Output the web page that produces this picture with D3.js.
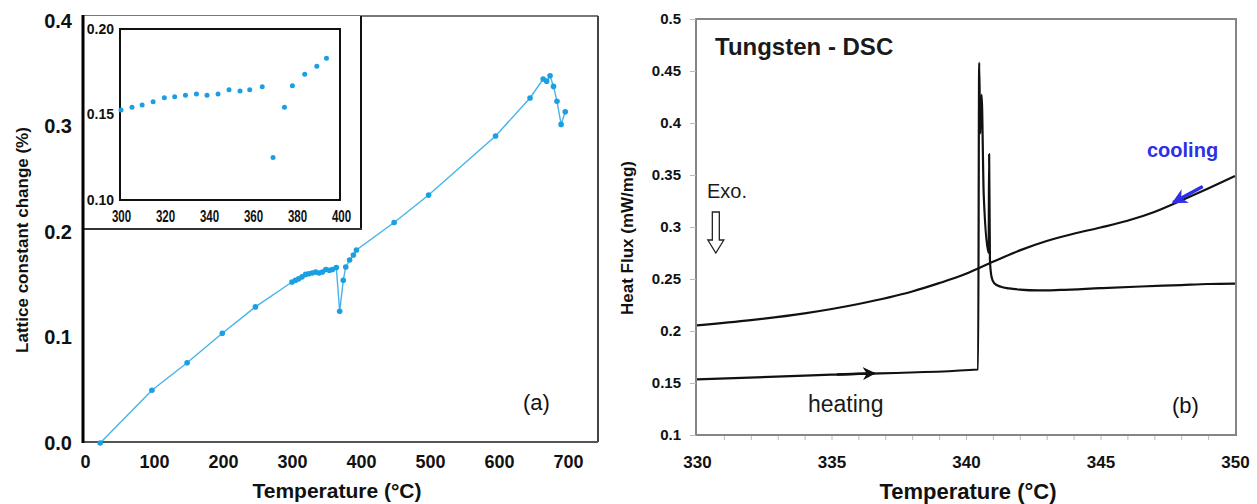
<!DOCTYPE html>
<html>
<head>
<meta charset="utf-8">
<script src="https://cdn.jsdelivr.net/npm/d3@7"></script>
<style>
  body { margin: 0; background: #fff; }
  svg text { font-family: "Liberation Sans", Arial, sans-serif; }
</style>
</head>
<body>
<svg id="chart" width="1257" height="504"></svg>
<script>
// ---- (a) lattice constant change vs temperature ----
var lowTemp = [22, 97, 148, 199, 247];
var lowChange = [0.0, 0.050, 0.076, 0.104, 0.129];

// the same points are shown zoomed in the inset
var insetTemp = [300, 305, 309.6, 314.6, 319.7, 324.4, 329.3, 334.3, 339.1, 344.1, 349.1, 354.1, 358.5, 364.2, 369.1, 374.3, 377.9, 383.5, 389, 393.4];
var insetChange = [0.1526, 0.1542, 0.1556, 0.1575, 0.1598, 0.1604, 0.1612, 0.1620, 0.1612, 0.1620, 0.1645, 0.1637, 0.1645, 0.1663, 0.1248, 0.1542, 0.1668, 0.1735, 0.1782, 0.1829];

var highTemp = [448, 498, 595, 645, 664, 669, 674, 679, 684, 690, 696];
var highChange = [0.209, 0.235, 0.291, 0.327, 0.345, 0.343, 0.348, 0.338, 0.324, 0.302, 0.314];

var leftXTicks = [0, 100, 200, 300, 400, 500, 600, 700];
var leftYTicks = [0, 0.1, 0.2, 0.3, 0.4];
var insetXTicks = [300, 320, 340, 360, 380, 400];
var insetYTicks = [0.10, 0.15, 0.20];

// ---- (b) DSC heat flux ----
var heatTemp = [330, 335, 340.45, 340.49, 340.53, 340.58, 340.66, 340.84, 340.86, 340.89, 340.95, 341.05, 341.3, 341.6, 342, 342.7, 343.5, 345, 346.5, 348, 349, 350];
var heatFlux = [0.1535, 0.158, 0.163, 0.458, 0.39, 0.427, 0.33, 0.275, 0.37, 0.268, 0.252, 0.246, 0.2425, 0.241, 0.2398, 0.239, 0.2395, 0.2412, 0.2428, 0.2442, 0.2452, 0.2455];

var coolTemp = [330, 332, 334, 336, 338, 339, 340, 341, 342, 343, 344, 345, 346, 347, 348, 349, 350];
var coolFlux = [0.2055, 0.2105, 0.217, 0.226, 0.238, 0.246, 0.255, 0.2665, 0.2775, 0.2865, 0.2935, 0.2995, 0.306, 0.3145, 0.3255, 0.337, 0.349];

var rightXTicks = [330, 335, 340, 345, 350];
var rightYTicks = [0.1, 0.15, 0.2, 0.25, 0.3, 0.35, 0.4, 0.45, 0.5];

var FONT = '"Liberation Sans", Arial, sans-serif';
var blueDot = '#1a9fe3';
var blueLine = '#45b4ea';

var svg = d3.select('#chart');

//helper to make axis text look like the figure
function styleAxis(g, size, weight) {
    g.attr('font-family', FONT)
        .attr('font-size', size)
        .attr('font-weight', weight)
        .attr('fill', '#111');
    g.selectAll('text').attr('fill', '#111');
    g.select('.domain').remove();
}

function zip(xs, ys) {
    return xs.map(function(x, i) { return {t: x, v: ys[i]}; });
}

// =============== LEFT PANEL ===============
var xLeft = d3.scaleLinear().domain([0, 700]).range([85, 568]);
var yLeft = d3.scaleLinear().domain([0, 0.4]).range([443, 21]);

var mainData = zip(lowTemp.concat(insetTemp, highTemp), lowChange.concat(insetChange, highChange));

//frame
svg.append('line').attr('x1', 83).attr('y1', 16).attr('x2', 598).attr('y2', 16)
    .attr('stroke', '#777').attr('stroke-width', 2);
svg.append('line').attr('x1', 598).attr('y1', 16).attr('x2', 598).attr('y2', 442)
    .attr('stroke', '#444').attr('stroke-width', 2);
svg.append('line').attr('x1', 83).attr('y1', 442).attr('x2', 598).attr('y2', 442)
    .attr('stroke', '#555').attr('stroke-width', 2);

//axes
svg.append('g').attr('transform', 'translate(83,0)')
    .call(d3.axisLeft(yLeft).tickValues(leftYTicks).tickFormat(d3.format('.1f')).tickSize(0).tickPadding(11))
    .call(styleAxis, 20, 'bold');
svg.append('g').attr('transform', 'translate(0,442)')
    .call(d3.axisBottom(xLeft).tickValues(leftXTicks).tickSize(0).tickPadding(13))
    .call(styleAxis, 18, 'bold');

//data line + dots
var leftLine = d3.line()
    .x(function(d) { return xLeft(d.t); })
    .y(function(d) { return yLeft(d.v); });
svg.append('path').datum(mainData)
    .attr('d', leftLine)
    .attr('fill', 'none')
    .attr('stroke', blueLine)
    .attr('stroke-width', 1.4);
svg.append('g').selectAll('circle').data(mainData).enter()
    .append('circle')
    .attr('cx', function(d) { return xLeft(d.t); })
    .attr('cy', function(d) { return yLeft(d.v); })
    .attr('r', 2.8)
    .attr('fill', blueDot);

//inset box
svg.append('rect').attr('x', 83).attr('y', 16).attr('width', 278).attr('height', 213)
    .attr('fill', '#fff');
svg.append('line').attr('x1', 361).attr('y1', 16).attr('x2', 361).attr('y2', 230)
    .attr('stroke', '#111').attr('stroke-width', 2);
svg.append('line').attr('x1', 83).attr('y1', 229).attr('x2', 362).attr('y2', 229)
    .attr('stroke', '#333').attr('stroke-width', 2);

var xInset = d3.scaleLinear().domain([300, 400]).range([121, 341]);
var yInset = d3.scaleLinear().domain([0.10, 0.20]).range([200, 29]);

svg.append('rect').attr('x', 120).attr('y', 29).attr('width', 220).attr('height', 171)
    .attr('fill', 'none').attr('stroke', '#111').attr('stroke-width', 2);

svg.append('g').attr('transform', 'translate(120,0)')
    .call(d3.axisLeft(yInset).tickValues(insetYTicks).tickFormat(d3.format('.2f')).tickSize(0).tickPadding(6))
    .call(styleAxis, 14, 'bold');
var insetX = svg.append('g').attr('transform', 'translate(0,200)')
    .call(d3.axisBottom(xInset).tickValues(insetXTicks).tickSize(0).tickPadding(11))
    .call(styleAxis, 16, 'bold');
insetX.selectAll('text').attr('transform', 'scale(0.72,1)');

svg.append('g').selectAll('circle').data(zip(insetTemp, insetChange)).enter()
    .append('circle')
    .attr('cx', function(d) { return xInset(d.t); })
    .attr('cy', function(d) { return yInset(d.v); })
    .attr('r', 2.5)
    .attr('fill', blueDot);

//thick left axis line on top
svg.append('line').attr('x1', 83).attr('y1', 15).attr('x2', 83).attr('y2', 443)
    .attr('stroke', '#000').attr('stroke-width', 3);

//titles
svg.append('text')
    .attr('transform', 'translate(28,240)rotate(-90)')
    .attr('text-anchor', 'middle')
    .attr('font-size', 17).attr('font-weight', 'bold').attr('fill', '#111')
    .text('Lattice constant change (%)');
svg.append('text')
    .attr('x', 337).attr('y', 498)
    .attr('text-anchor', 'middle')
    .attr('font-size', 21).attr('font-weight', 'bold').attr('fill', '#111')
    .text('Temperature (°C)');
svg.append('text')
    .attr('x', 523).attr('y', 410)
    .attr('font-size', 22).attr('fill', '#111')
    .text('(a)');

// =============== RIGHT PANEL ===============
var xRight = d3.scaleLinear().domain([330, 350]).range([697, 1235]);
var yRight = d3.scaleLinear().domain([0.1, 0.5]).range([435, 19]);

svg.append('rect').attr('x', 696).attr('y', 19).attr('width', 540).attr('height', 416)
    .attr('fill', 'none').attr('stroke', '#858585').attr('stroke-width', 2);

var yAxR = svg.append('g').attr('transform', 'translate(696,0)')
    .call(d3.axisLeft(yRight).tickValues(rightYTicks).tickFormat(d3.format('~g')).tickSize(6).tickPadding(9))
    .call(styleAxis, 15, 'bold');
yAxR.selectAll('line').attr('stroke', '#bbb');

//minor ticks every degree
var minor = svg.append('g').attr('transform', 'translate(0,436)')
    .call(d3.axisBottom(xRight).tickValues(d3.range(331, 350, 1)).tickSize(4).tickFormat(''));
minor.select('.domain').remove();
minor.selectAll('line').attr('stroke', '#bbb');

svg.append('g').attr('transform', 'translate(0,435)')
    .call(d3.axisBottom(xRight).tickValues(rightXTicks).tickSize(0).tickPadding(21))
    .call(styleAxis, 17, 'bold');

var rightLine = d3.line()
    .x(function(d) { return xRight(d.t); })
    .y(function(d) { return yRight(d.v); })
    .curve(d3.curveMonotoneX);

svg.append('path').datum(zip(coolTemp, coolFlux))
    .attr('d', rightLine)
    .attr('fill', 'none').attr('stroke', '#111').attr('stroke-width', 2.2);
svg.append('path').datum(zip(heatTemp, heatFlux))
    .attr('d', rightLine)
    .attr('fill', 'none').attr('stroke', '#111').attr('stroke-width', 2.2)
    .attr('stroke-linejoin', 'round');

//arrow heads
var defs = svg.append('defs');
defs.append('marker').attr('id', 'headBlack')
    .attr('viewBox', '0 0 10 10').attr('refX', 9).attr('refY', 5)
    .attr('markerWidth', 5).attr('markerHeight', 5).attr('orient', 'auto')
    .append('path').attr('d', 'M0,0L10,5L0,10L3,5Z').attr('fill', '#111');
defs.append('marker').attr('id', 'headBlue')
    .attr('viewBox', '0 0 10 10').attr('refX', 9).attr('refY', 5)
    .attr('markerWidth', 4.5).attr('markerHeight', 4.5).attr('orient', 'auto')
    .append('path').attr('d', 'M0,0L10,5L0,10L3,5Z').attr('fill', '#2f2fe6');

//heating arrow, along the heating trace
svg.append('line')
    .attr('x1', xRight(335.2)).attr('y1', yRight(0.1582))
    .attr('x2', xRight(336.6)).attr('y2', yRight(0.1594))
    .attr('stroke', '#111').attr('stroke-width', 2.6)
    .attr('marker-end', 'url(#headBlack)');

//cooling arrow
svg.append('line')
    .attr('x1', xRight(348.8)).attr('y1', yRight(0.339))
    .attr('x2', xRight(347.7)).attr('y2', yRight(0.3235))
    .attr('stroke', '#2f2fe6').attr('stroke-width', 3.4)
    .attr('marker-end', 'url(#headBlue)');

//hollow exo arrow
var ex = xRight(330.7);
svg.append('path')
    .attr('d', 'M' + (ex - 3.5) + ',212L' + (ex + 3.5) + ',212L' + (ex + 3.5) + ',240L' + (ex + 8) + ',240L' +
        ex + ',253L' + (ex - 8) + ',240L' + (ex - 3.5) + ',240Z')
    .attr('fill', '#fff').attr('stroke', '#222').attr('stroke-width', 1.3);

svg.append('text').attr('x', 715).attr('y', 55)
    .attr('font-size', 24).attr('font-weight', 'bold').attr('fill', '#1a1a1a')
    .text('Tungsten - DSC');
svg.append('text').attr('x', 707).attr('y', 198)
    .attr('font-size', 20).attr('fill', '#1a1a1a')
    .text('Exo.');
svg.append('text').attr('x', 1147).attr('y', 157)
    .attr('font-size', 20).attr('font-weight', 'bold').attr('fill', '#2f2fe6')
    .text('cooling');
svg.append('text').attr('x', 808).attr('y', 412)
    .attr('font-size', 23).attr('fill', '#1a1a1a')
    .text('heating');
svg.append('text').attr('x', 1172).attr('y', 413)
    .attr('font-size', 22).attr('fill', '#111')
    .text('(b)');

svg.append('text')
    .attr('transform', 'translate(633,238)rotate(-90)')
    .attr('text-anchor', 'middle')
    .attr('font-size', 17).attr('font-weight', 'bold').attr('fill', '#111')
    .text('Heat Flux (mW/mg)');
svg.append('text')
    .attr('x', 968).attr('y', 499)
    .attr('text-anchor', 'middle')
    .attr('font-size', 22).attr('font-weight', 'bold').attr('fill', '#111')
    .text('Temperature (°C)');
</script>
</body>
</html>
